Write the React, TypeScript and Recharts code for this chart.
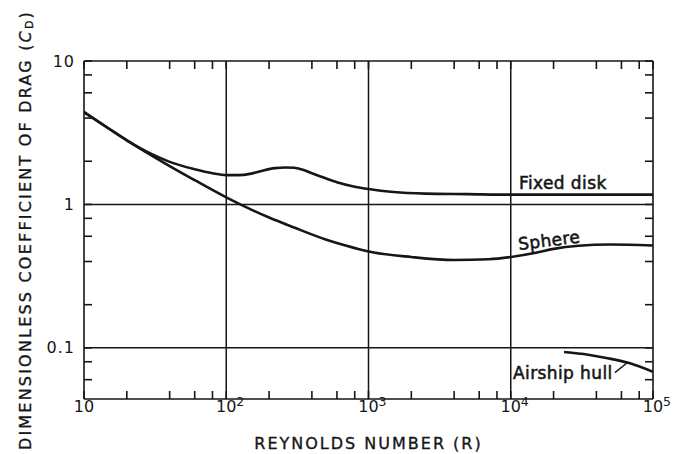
import React from "react";
import { LineChart, Line, XAxis, YAxis, ReferenceLine } from "recharts";

// Reynolds number tick values (decades plus 2,4,6,8 minors)
const xTicks = [
  10, 20, 40, 60, 80,
  100, 200, 400, 600, 800,
  1000, 2000, 4000, 6000, 8000,
  10000, 20000, 40000, 60000, 80000,
  100000,
];
const xMajor = [10, 100, 1000, 10000, 100000];
const xExponents = ["", "2", "3", "4", "5"];

// drag coefficient ticks
const yTicks = [0.06, 0.08, 0.1, 0.2, 0.4, 0.6, 0.8, 1, 2, 4, 6, 8, 10];
const yMajor = [0.1, 1, 10];
const yLabels = ["0.1", "1", "10"];

// fixed disk
const diskR = [10, 15, 20, 25, 30, 40, 60, 80, 100, 120, 150, 180, 220, 260, 300, 350, 400, 500, 600, 800, 1000, 1500, 2500, 5000, 10000, 100000];
const diskCd = [4.4, 3.37, 2.8, 2.46, 2.24, 1.98, 1.76, 1.65, 1.6, 1.6, 1.64, 1.72, 1.79, 1.81, 1.8, 1.74, 1.65, 1.52, 1.43, 1.33, 1.28, 1.22, 1.19, 1.18, 1.17, 1.17];

// sphere
const sphereR = [10, 15, 20, 30, 40, 60, 100, 150, 200, 300, 500, 700, 1000, 2000, 4000, 7000, 10000, 15000, 20000, 30000, 50000, 100000];
const sphereCd = [4.4, 3.37, 2.8, 2.19, 1.85, 1.476, 1.12, 0.92, 0.81, 0.69, 0.57, 0.515, 0.47, 0.43, 0.41, 0.415, 0.43, 0.46, 0.49, 0.515, 0.525, 0.517];

// airship hull
const hullR = [23700, 35000, 47000, 69000, 100000];
const hullCd = [0.0935, 0.0895, 0.085, 0.078, 0.068];

const disk = diskR.map((r, i) => ({ r, cd: diskCd[i] }));
const sphere = sphereR.map((r, i) => ({ r, cd: sphereCd[i] }));
const hull = hullR.map((r, i) => ({ r, cd: hullCd[i] }));

const INK = "#161616";
const FONT = "'DejaVu Sans', sans-serif";

function XTick(props: any) {
  const { x, y, payload } = props;
  const i = xMajor.indexOf(payload.value);
  if (i < 0) return <g />;
  return (
    <g>
      <text x={x} y={y} textAnchor="middle" dominantBaseline="central" fontFamily={FONT} fontSize={16} fill={INK}>
        10
      </text>
      {xExponents[i] && (
        <text x={x + 10} y={y - 5} textAnchor="start" dominantBaseline="central" fontFamily={FONT} fontSize={12.5} fill={INK}>
          {xExponents[i]}
        </text>
      )}
    </g>
  );
}

function YTick(props: any) {
  const { x, y, payload } = props;
  const i = yMajor.indexOf(payload.value);
  if (i < 0) return <g />;
  return (
    <text x={x} y={y} textAnchor="end" dominantBaseline="central" fontFamily={FONT} fontSize={16} letterSpacing={1} fill={INK}>
      {yLabels[i]}
    </text>
  );
}

const NoTick = () => <g />;

function XTitle(props: any) {
  const vb = props.viewBox || { x: 0, y: 0, width: 0, height: 0 };
  return (
    <text x={vb.x + vb.width / 2} y={vb.y + vb.height - 5} textAnchor="middle" fontFamily={FONT} fontSize={16} letterSpacing={2} fill={INK} stroke={INK} strokeWidth={0.35}>
      REYNOLDS NUMBER (R)
    </text>
  );
}

function YTitle(props: any) {
  const vb = props.viewBox || { x: 0, y: 0, width: 0, height: 0 };
  const cy = vb.y + vb.height / 2;
  return (
    <text transform={`translate(25, ${cy}) rotate(-90)`} textAnchor="middle" dominantBaseline="central" fontFamily={FONT} fontSize={16} letterSpacing={2.2} fill={INK} stroke={INK} strokeWidth={0.35}>
      DIMENSIONLESS COEFFICIENT OF DRAG (
      <tspan fontStyle="italic">C</tspan>
      <tspan fontSize={11} dy={4}>D</tspan>
      <tspan dy={-4}>)</tspan>
    </text>
  );
}

const axisStroke = { stroke: INK, strokeWidth: 1.6 };
const noteStyle = {
  fontFamily: FONT,
  fontSize: 17,
  letterSpacing: 0.4,
  fill: INK,
  stroke: INK,
  strokeWidth: 0.55,
};

export default function App() {
  return (
    <div style={{ position: "absolute", left: 0, top: 0, width: 685, height: 454, background: "#fff" }}>
      <LineChart width={685} height={454} margin={{ top: 0, right: 0, bottom: 0, left: 0 }}>
        <XAxis
          xAxisId={0}
          dataKey="r"
          type="number"
          scale="log"
          domain={[10, 100000]}
          allowDataOverflow
          ticks={xTicks}
          interval={0}
          height={55}
          tickSize={-8}
          tickMargin={15}
          tickLine={axisStroke}
          axisLine={axisStroke}
          tick={<XTick />}
          label={<XTitle />}
        />
        <XAxis
          xAxisId="top"
          orientation="top"
          dataKey="r"
          type="number"
          scale="log"
          domain={[10, 100000]}
          allowDataOverflow
          ticks={xTicks}
          interval={0}
          height={61}
          tickSize={-8}
          tickLine={axisStroke}
          axisLine={axisStroke}
          tick={<NoTick />}
        />
        <YAxis
          yAxisId={0}
          dataKey="cd"
          type="number"
          scale="log"
          domain={[0.044, 10]}
          allowDataOverflow
          ticks={yTicks}
          interval={0}
          width={84}
          tickSize={-8}
          tickMargin={17}
          tickLine={axisStroke}
          axisLine={axisStroke}
          tick={<YTick />}
          label={<YTitle />}
        />
        <YAxis
          yAxisId="right"
          orientation="right"
          dataKey="cd"
          type="number"
          scale="log"
          domain={[0.044, 10]}
          allowDataOverflow
          ticks={yTicks}
          interval={0}
          width={32}
          tickSize={-8}
          tickLine={axisStroke}
          axisLine={axisStroke}
          tick={<NoTick />}
        />

        {/* decade grid */}
        <ReferenceLine x={100} stroke={INK} strokeWidth={1.5} />
        <ReferenceLine x={1000} stroke={INK} strokeWidth={1.5} />
        <ReferenceLine x={10000} stroke={INK} strokeWidth={1.5} />
        <ReferenceLine y={1} stroke={INK} strokeWidth={1.5} />
        <ReferenceLine y={0.1} stroke={INK} strokeWidth={1.5} />

        <Line data={disk} dataKey="cd" type="monotone" stroke={INK} strokeWidth={2.6} dot={false} isAnimationActive={false} />
        <Line data={sphere} dataKey="cd" type="monotone" stroke={INK} strokeWidth={2.6} dot={false} isAnimationActive={false} />
        <Line data={hull} dataKey="cd" type="monotone" stroke={INK} strokeWidth={2.6} dot={false} isAnimationActive={false} />

        {/* leader from the hull label to its curve */}
        <ReferenceLine segment={[{ x: 54000, y: 0.0672 }, { x: 65500, y: 0.0785 }]} stroke={INK} strokeWidth={1.4} />

        <text x={519} y={189} {...noteStyle}>Fixed disk</text>
        <text x={519} y={250} transform="rotate(-7 519 250)" {...noteStyle}>Sphere</text>
        <text x={513} y={379} {...noteStyle}>Airship hull</text>
      </LineChart>
    </div>
  );
}
